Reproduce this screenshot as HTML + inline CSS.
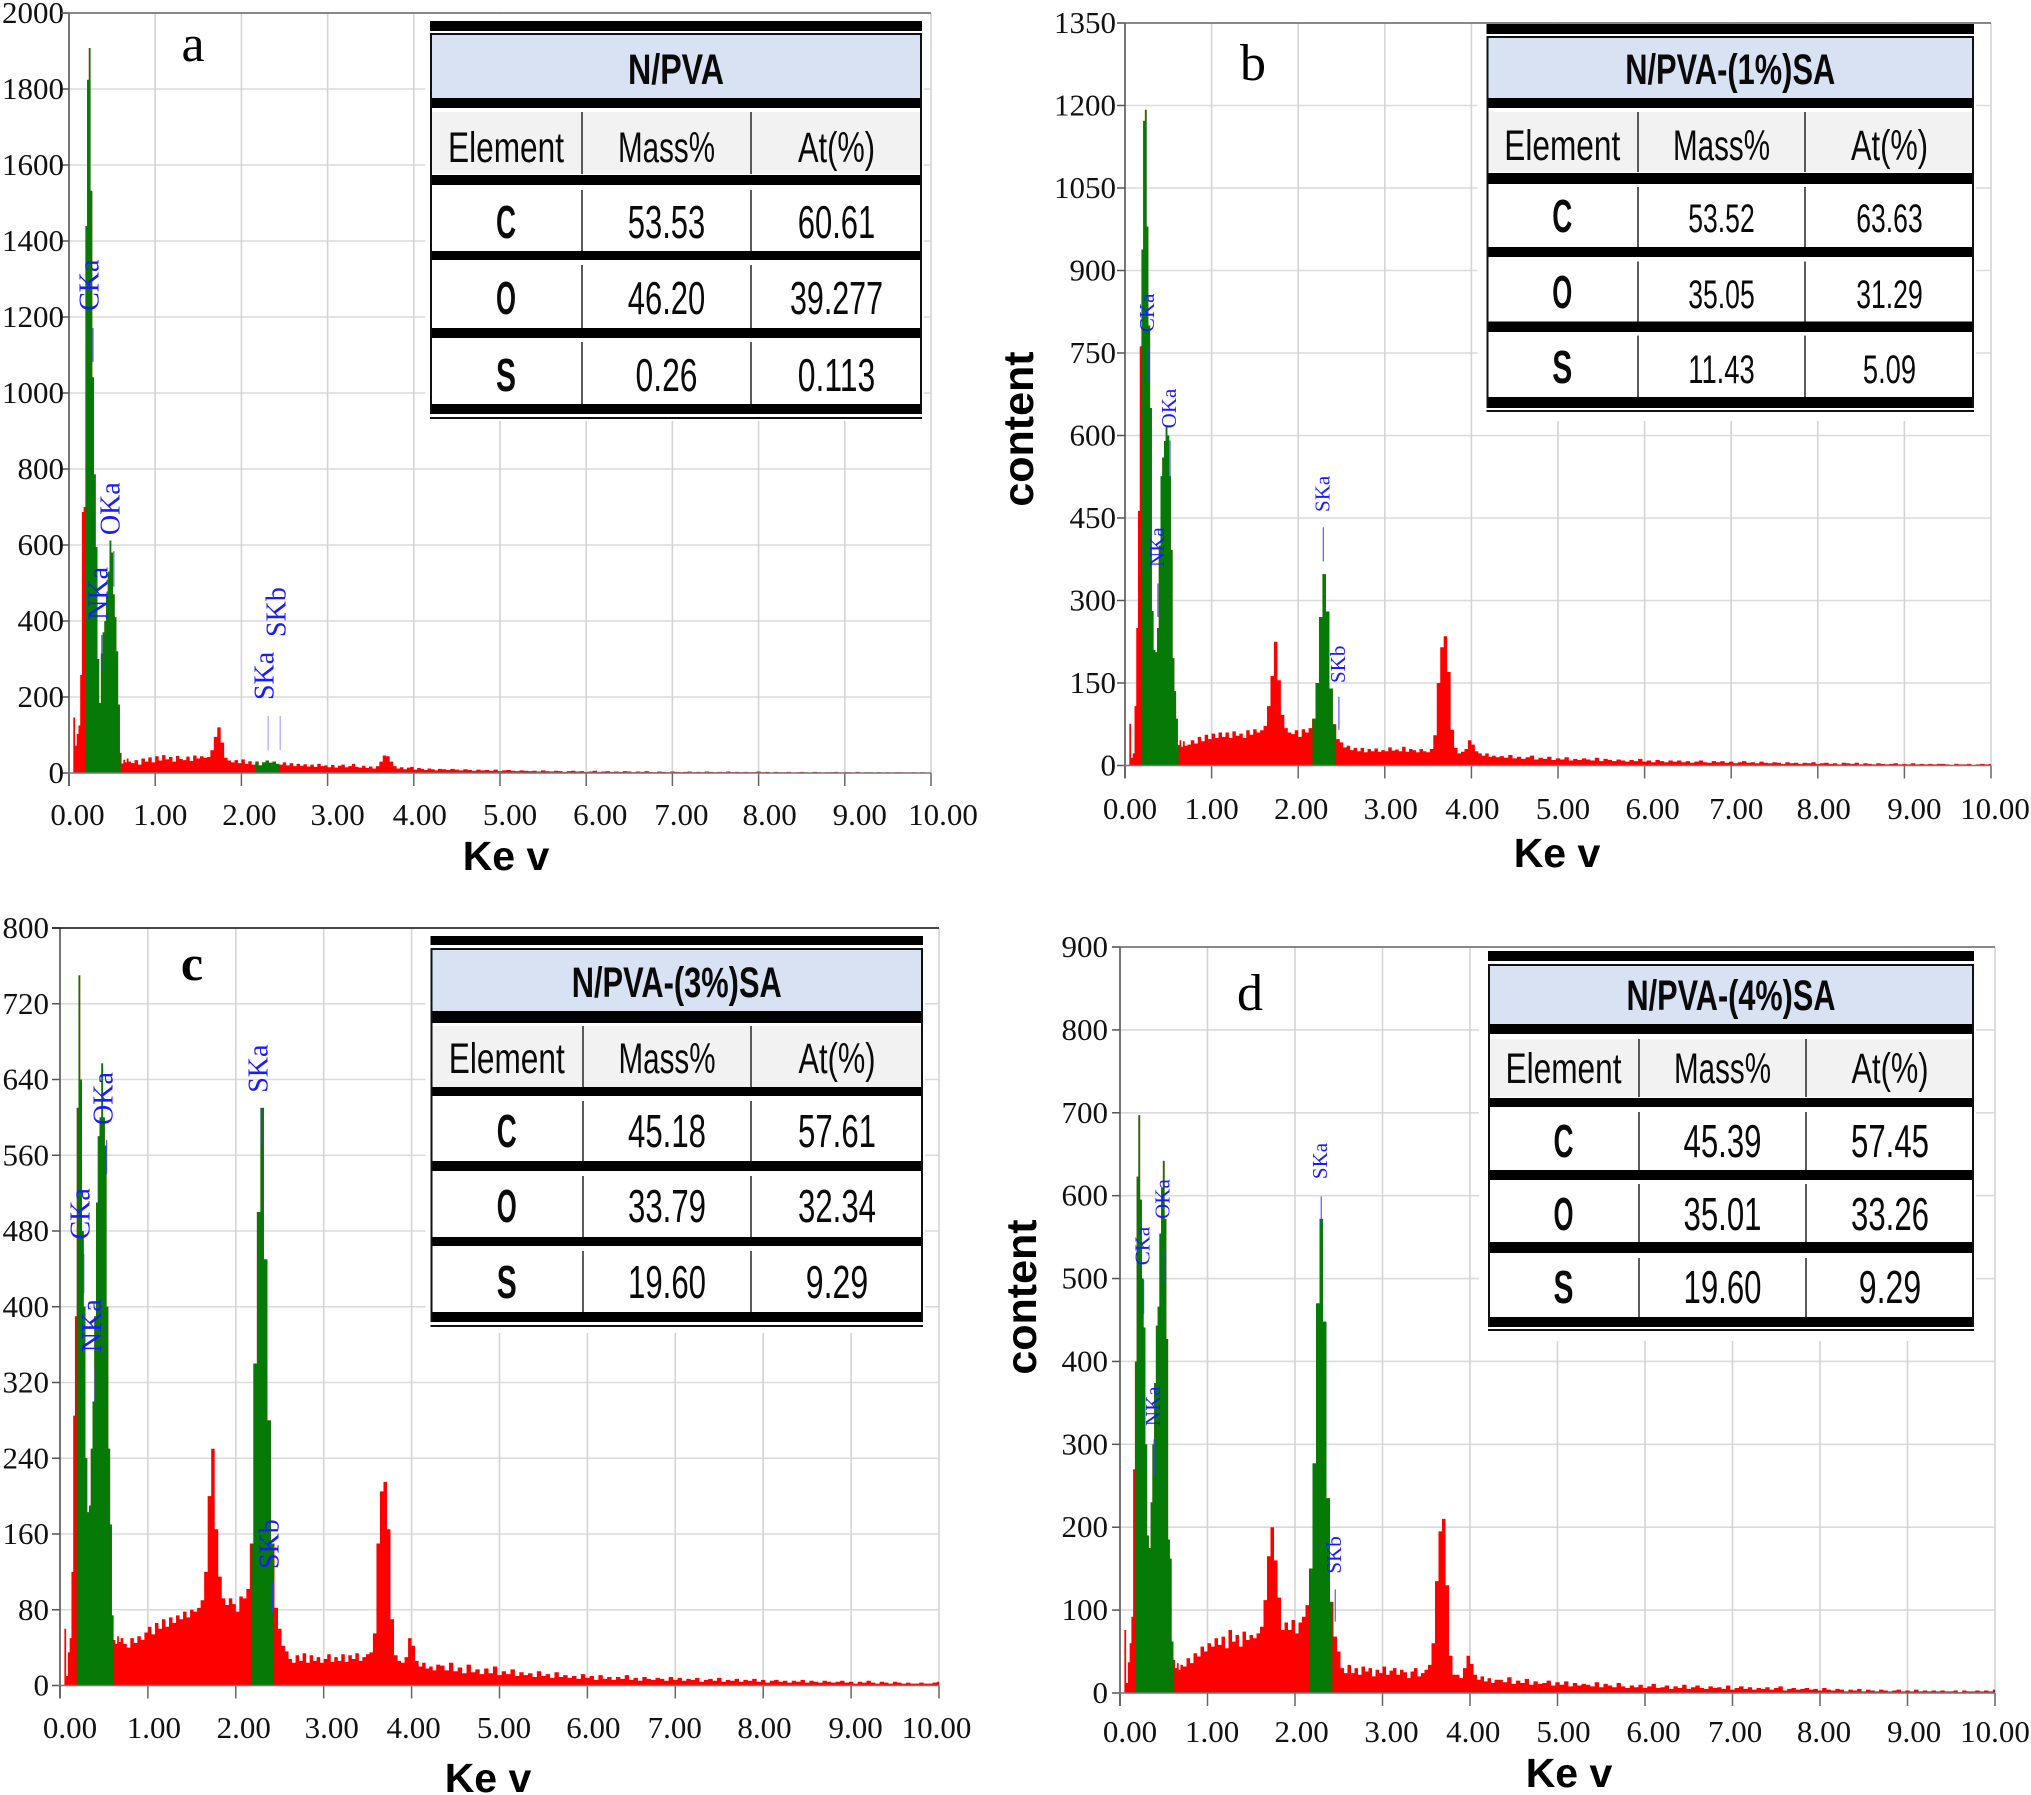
<!DOCTYPE html>
<html lang="en">
<head>
<meta charset="utf-8">
<title>EDX spectra of N/PVA composites</title>
<style>
html,body{margin:0;padding:0;background:#fff;}
svg{display:block;}
</style>
</head>
<body>
<svg id="figure" xmlns="http://www.w3.org/2000/svg" width="2031" height="1795" viewBox="0 0 2031 1795"></svg>
<script>
// Shared energy axis of the spectra (keV)
const energyKeV = [
0.04,0.06,0.08,0.10,0.12,0.14,0.16,0.18,0.20,0.22,0.24,0.26,0.28,0.30,0.32,0.34,0.36,
0.38,0.40,0.42,0.44,0.46,0.48,0.50,0.52,0.54,0.56,0.58,0.60,0.62,0.64,0.66,0.68,0.70,
0.74,0.78,0.82,0.86,0.90,0.94,0.98,1.02,1.06,1.10,
1.14,1.18,1.22,1.26,1.30,1.34,1.38,1.42,1.46,1.50,
1.54,1.58,1.62,1.66,1.70,1.74,1.78,1.82,1.86,1.90,
1.94,1.98,2.02,2.06,2.10,2.14,2.18,2.22,2.26,2.30,
2.34,2.38,2.42,2.46,2.50,2.54,2.58,2.62,2.66,2.70,
2.74,2.78,2.82,2.86,2.90,2.94,2.98,3.02,3.06,3.10,
3.14,3.18,3.22,3.26,3.30,3.34,3.38,3.42,3.46,3.50,
3.54,3.58,3.62,3.66,3.70,3.74,3.78,3.82,3.86,3.90,
3.94,3.98,4.02,4.06,4.10,4.14,4.18,4.22,4.26,4.30,
4.35,4.40,4.45,4.50,4.55,4.60,4.65,4.70,4.75,4.80,
4.85,4.90,4.95,5.00,5.05,5.10,5.15,5.20,5.25,5.30,
5.35,5.40,5.45,5.50,5.55,5.60,5.65,5.70,5.75,5.80,
5.85,5.90,5.95,6.00,6.05,6.10,6.15,6.20,6.25,6.30,
6.35,6.40,6.45,6.50,6.55,6.60,6.65,6.70,6.75,6.80,
6.85,6.90,6.95,7.00,7.05,7.10,7.15,7.20,7.25,7.30,
7.35,7.40,7.45,7.50,7.55,7.60,7.65,7.70,7.75,7.80,
7.85,7.90,7.95,8.00,8.05,8.10,8.15,8.20,8.25,8.30,
8.35,8.40,8.45,8.50,8.55,8.60,8.65,8.70,8.75,8.80,
8.85,8.90,8.95,9.00,9.05,9.10,9.15,9.20,9.25,9.30,
9.35,9.40,9.45,9.50,9.55,9.60,9.65,9.70,9.75,9.80,
9.85,9.90,9.95,10.00];

const countsA = [
0,146,72,103,125,258,687,700,1439,1824,1908,1532,1041,786,594,300,184,
314,370,400,470,530,612,580,470,410,320,180,53,25,35,28,38,30,
26,34,22,38,30,41,28,44,33,47,
36,42,30,45,37,34,43,32,46,38,
44,40,42,60,95,120,80,40,33,28,
34,26,36,24,31,22,30,20,28,33,
27,30,24,22,28,20,26,18,24,19,
23,17,22,16,24,18,20,15,21,14,
19,22,15,18,24,16,14,19,13,17,
12,18,30,46,44,30,18,12,15,10,
14,16,9,13,11,8,12,10,7,11,
10,8,11,9,7,10,8,6,9,7,
8,6,9,5,7,8,6,5,7,6,
5,6,4,7,5,4,6,5,3,5,
6,4,5,3,4,6,3,4,5,3,
4,3,5,4,2,4,3,5,3,2,
4,3,2,4,3,2,3,4,2,3,
2,4,3,2,3,2,4,2,3,2,
3,2,2,4,2,3,1,3,2,2,
3,1,2,3,2,1,3,2,1,2,
2,3,1,2,2,1,3,1,2,2,
1,2,1,2,1,2,2,1,1,2,
1,2,1,1];

const countsB = [
0,76,14,22,108,250,463,762,938,1172,1192,980,800,650,281,210,206,
250,400,526,560,590,617,600,526,392,195,135,85,37,46,34,44,36,
38,46,40,52,44,56,48,58,50,60,
52,60,50,62,54,58,50,64,56,66,
60,64,72,108,163,225,155,92,68,60,
57,64,52,66,60,68,85,150,270,348,
280,140,75,48,42,33,36,28,32,26,
32,24,30,26,31,25,28,26,33,27,
29,26,34,25,30,28,24,30,26,24,
30,55,150,215,235,170,65,32,22,25,
30,46,38,26,22,18,22,16,18,15,
17,14,19,13,16,12,15,18,11,14,
12,16,10,13,11,15,9,12,10,13,
11,9,14,8,12,10,8,11,9,7,
10,8,12,7,9,6,10,8,6,9,
7,9,6,8,5,7,9,6,5,8,
6,8,5,7,4,6,8,5,6,4,
7,5,4,6,5,3,6,4,5,3,
5,4,6,3,4,5,3,4,2,5,
4,3,5,2,4,3,2,4,3,2,
3,4,2,3,2,4,2,3,2,3,
2,3,3,2,1,3,2,2,3,1,
2,3,2,3];

const countsC = [
0,60,10,35,50,120,285,390,610,750,640,480,400,240,183,190,250,
300,390,510,580,600,657,600,570,400,250,170,74,48,44,52,46,50,
44,40,50,45,52,48,56,62,54,66,
60,70,62,72,66,74,70,78,72,80,
78,82,90,120,200,250,165,115,92,85,
92,86,78,94,92,102,150,340,500,610,
450,280,150,82,60,42,36,28,24,32,
26,34,24,32,26,30,24,28,33,25,
30,26,33,25,32,28,34,26,30,33,
35,55,150,205,215,165,70,32,26,24,
30,50,42,26,20,24,18,20,16,22,
21,16,24,15,19,13,22,14,17,12,
18,13,20,11,15,12,17,10,14,11,
13,9,15,10,12,8,14,9,11,8,
10,7,12,8,10,6,11,7,9,6,
9,7,11,6,8,5,9,7,6,8,
7,5,9,6,8,5,7,6,8,4,
6,7,5,8,4,6,5,7,4,6,
5,7,4,6,3,5,6,4,5,3,
5,4,6,3,5,4,3,5,4,3,
4,5,3,4,2,4,3,5,3,2,
4,3,2,4,3,2,3,2,2,3,
2,2,3,4];

const countsD = [
0,76,12,37,60,92,270,400,623,697,595,500,441,300,190,175,230,
300,374,443,466,554,610,642,572,427,185,162,62,40,30,36,28,34,
32,42,36,48,44,56,50,60,56,66,
58,68,54,76,62,70,56,74,64,70,
66,72,80,112,165,200,160,115,76,85,
76,88,72,85,92,106,150,277,470,572,
448,235,110,68,50,30,24,34,24,30,
22,32,26,30,20,28,24,32,22,27,
30,22,28,25,18,26,30,20,24,28,
34,60,135,195,210,130,45,22,22,18,
30,45,35,22,16,20,14,18,12,16,
16,13,19,11,15,12,17,10,14,11,
12,15,9,13,10,14,8,12,9,11,
10,8,13,7,11,9,7,12,8,6,
9,7,10,6,8,11,6,7,9,5,
8,6,10,5,7,9,6,5,8,6,
7,5,9,4,6,8,5,7,4,6,
5,7,4,6,8,3,5,6,4,5,
6,4,5,3,6,4,3,5,4,2,
4,3,5,2,4,3,2,4,3,2,
3,4,2,3,2,4,2,3,2,3,
2,3,2,2,3,1,3,2,2,3,
2,3,2,4];

// Axis tick labels
const xTickLabels = ["0.00","1.00","2.00","3.00","4.00","5.00","6.00","7.00","8.00","9.00","10.00"];
const yTicksA = ["0","200","400","600","800","1000","1200","1400","1600","1800","2000"];
const yTicksB = ["0","150","300","450","600","750","900","1050","1200","1350"];
const yTicksC = ["0","80","160","240","320","400","480","560","640","720","800"];
const yTicksD = ["0","100","200","300","400","500","600","700","800","900"];

// Highlighted energy windows (keV)
const windowsA = [[0.19,0.60],[2.17,2.44]];
const windowsB = [[0.185,0.62],[2.165,2.435]];
const windowsC = [[0.19,0.607],[2.175,2.435]];
const windowsD = [[0.18,0.62],[2.16,2.427]];

// Peak annotations
const peakNames = ["CKa","OKa","NKa","SKa","SKb"];
const peakEnergyA = [0.278,0.52,0.38,2.31,2.45];
const peakLineTopA = [1171,584,363,150,150];
const peakLineBottomA = [1082,490,266,60,60];
const peakTextA = [1216,626,403,192,358];
const peakEnergyB = [0.266,0.52,0.38,2.29,2.47];
const peakLineTopB = [759,591,331,433,125];
const peakLineBottomB = [697,524,270,371,65];
const peakTextB = [788,613,361,461,150];
const peakEnergyC = [0.27,0.53,0.40,2.29,2.42];
const peakLineTopC = [456,576,335,608,109];
const peakLineBottomC = [414,540,300,571,77];
const peakTextC = [471,592,352,626,123];
const peakEnergyD = [0.27,0.50,0.39,2.30,2.46];
const peakLineTopD = [498,536,306,599,125];
const peakLineBottomD = [457,495,262,565,86];
const peakTextD = [516,572,322,620,144];

// Composition tables
const tableHead = ["Element","Mass%","At(%)"];
const titleA = "N/PVA";
const titleB = "N/PVA-(1%)SA";
const titleC = "N/PVA-(3%)SA";
const titleD = "N/PVA-(4%)SA";
const rowsA = [["C","53.53","60.61"],["O","46.20","39.277"],["S","0.26","0.113"]];
const rowsB = [["C","53.52","63.63"],["O","35.05","31.29"],["S","11.43","5.09"]];
const rowsC = [["C","45.18","57.61"],["O","33.79","32.34"],["S","19.60","9.29"]];
const rowsD = [["C","45.39","57.45"],["O","35.01","33.26"],["S","19.60","9.29"]];

const panels = [
 {id:"a",letter:"a",letterX:193,letterY:61,letterSize:52,letterWeight:"normal",
  x0:69,x10:931,y0:773,yTop:13,gapY:5,labelShift:[8.5,5,8,10,6,10,14,9,11,15,12],xLabelY:825,counts:countsA,yTicks:yTicksA,windows:windowsA,
  pe:peakEnergyA,pt:peakLineTopA,pb:peakLineBottomA,px:peakTextA,peakFont:28,peakLift:5.5,
  xTitleX:506,xTitleY:870,yTitleX:null,yTitleY:null,
  title:titleA,titleW:96,rows:rowsA,numFont:46,charW:15.5,
  tx0:430,tx1:922,c1:582,c2:751,
  tTop:[21,31],tHeader:[35,98],tBands:[[98,108],[175,185],[251,260],[328,338],[404,414]],
  tRows:[[112,174],[190,251],[265,328],[342,404]],tThin:418,tBase:[84,162,238,314,391],backLeft:5,backBottom:421},
 {id:"b",letter:"b",letterX:1253,letterY:80,letterSize:52,letterWeight:"normal",
  x0:1125,x10:1991,y0:765.5,yTop:23,gapY:9,labelShift:[5,0,3,6,1,5,8,5,6,10,4],xLabelY:819,counts:countsB,yTicks:yTicksB,windows:windowsB,
  pe:peakEnergyB,pt:peakLineTopB,pb:peakLineBottomB,px:peakTextB,peakFont:21,peakLift:6,
  xTitleX:1557,xTitleY:867,yTitleX:1033,yTitleY:429,
  title:titleB,titleW:210,rows:rowsB,numFont:40,charW:13.3,
  tx0:1486.5,tx1:1974,c1:1638,c2:1805,
  tTop:[24,34],tHeader:[38,98],tBands:[[98,108],[173,184],[247,257],[321.5,332],[397,408]],
  tRows:[[112,172],[187,247],[261.5,321.5],[335.6,397]],tThin:411,tBase:[84,160,232,308,383],backLeft:9,backBottom:421},
 {id:"c",letter:"c",letterX:192,letterY:980,letterSize:50,letterWeight:"bold",
  x0:60,x10:939,y0:1685.5,yTop:928,gapY:11,labelShift:[10,6,8,8,2,4.5,6,-0.6,1.3,4.5,-2.5],xLabelY:1738,counts:countsC,yTicks:yTicksC,windows:windowsC,
  pe:peakEnergyC,pt:peakLineTopC,pb:peakLineBottomC,px:peakTextC,peakFont:28,peakLift:6,
  xTitleX:488,xTitleY:1792,yTitleX:null,yTitleY:null,
  title:titleC,titleW:210,rows:rowsC,numFont:46,charW:15.6,
  tx0:430.5,tx1:923,c1:583,c2:751,
  tTop:[936,945],tHeader:[950,1011],tBands:[[1011,1023],[1087,1096],[1161,1171],[1237,1246],[1312,1322]],
  tRows:[[1026,1087],[1101,1161],[1176,1237],[1251,1312]],tThin:1326,tBase:[997,1073,1147,1222,1298],backLeft:5,backBottom:1333},
 {id:"d",letter:"d",letterX:1250,letterY:1010,letterSize:52,letterWeight:"normal",
  x0:1120,x10:1995,y0:1693,yTop:947,gapY:12,labelShift:[10,4.6,6.6,9,3.3,6,8.5,2.6,4,6.6,0],xLabelY:1742,counts:countsD,yTicks:yTicksD,windows:windowsD,
  pe:peakEnergyD,pt:peakLineTopD,pb:peakLineBottomD,px:peakTextD,peakFont:21,peakLift:6,
  xTitleX:1569,xTitleY:1787,yTitleX:1036,yTitleY:1297,
  title:titleD,titleW:209,rows:rowsD,numFont:46,charW:15.6,
  tx0:1488,tx1:1974,c1:1639,c2:1806,
  tTop:[951,961],tHeader:[966,1024],tBands:[[1024,1034],[1098,1107],[1170,1180],[1242,1253],[1317,1327]],
  tRows:[[1039,1097],[1112,1170],[1184,1242],[1258,1317]],tThin:1330,tBase:[1010,1083,1157,1230,1303],backLeft:9,backBottom:1341}
];

const SVGNS = "http://www.w3.org/2000/svg";
const SERIF = '"Liberation Serif", serif';
const SANS = '"Liberation Sans", sans-serif';
const svg = document.getElementById("figure");

function shape(parent, tag, attrs, text) {
  const el = document.createElementNS(SVGNS, tag);
  for (const k in attrs) el.setAttribute(k, attrs[k]);
  if (text !== undefined) el.textContent = text;
  parent.appendChild(el);
  return el;
}
function xScale(p, e) { return p.x0 + e * (p.x10 - p.x0) / 10; }
function yScale(p, c) {
  const yMax = parseFloat(p.yTicks[p.yTicks.length - 1]);
  return p.y0 - c * (p.y0 - p.yTop) / yMax;
}

function drawAxes(p, g) {
  p.yTicks.forEach(function (lab) {
    const v = parseFloat(lab), y = yScale(p, v);
    if (v > 0) {
      const gl = shape(g, "line", {x1: p.x0, x2: p.x10, y1: y, y2: y, stroke: "#dadada", "stroke-width": 1.6});
      
      
    }
    const tk = shape(g, "line", {x1: p.x0 - 8, x2: p.x0, y1: y, y2: y, stroke: "#555", "stroke-width": 1.5});
    
    
    const t = shape(g, "text", {x: p.x0 - p.gapY, y: y + 10, "text-anchor": "end", "font-family": SERIF, "font-size": 31, fill: "#111"}, lab);
    
    
  });
  xTickLabels.forEach(function (lab, i) {
    const v = parseFloat(lab), x = xScale(p, v);
    if (v > 0) {
      const gl = shape(g, "line", {x1: x, x2: x, y1: p.yTop, y2: p.y0, stroke: "#d4d4d4", "stroke-width": 1.6});
      
      
    }
    const tk = shape(g, "line", {x1: x, x2: x, y1: p.y0, y2: p.y0 + 13, stroke: "#666", "stroke-width": 1.5});
    
    
    const t = shape(g, "text", {x: x + p.labelShift[i], y: p.xLabelY, "text-anchor": "middle", "font-family": SERIF, "font-size": 31, fill: "#111"}, lab);
    
    
  });
}

// Histogram outline: each bin holds its count between the midpoints to its neighbours
function spectrumPath(p) {
  let d = "M" + xScale(p, energyKeV[0]).toFixed(2) + " " + p.y0;
  energyKeV.forEach(function (e, i) {
    const right = i < energyKeV.length - 1 ? (e + energyKeV[i + 1]) / 2 : e;
    d += "V" + yScale(p, p.counts[i]).toFixed(2) + "H" + xScale(p, right).toFixed(2);
  });
  return d + "V" + p.y0 + "Z";
}

function drawSpectrum(p, g) {
  const d = spectrumPath(p);
  const red = shape(g, "path", {d: d, fill: "#ff0000"});
  
  
  p.windows.forEach(function (w, i) {
    const id = "window-" + p.id + "-" + i;
    const clip = shape(g, "clipPath", {id: id});
    
    
    const cr = shape(clip, "rect", {x: xScale(p, w[0]), y: p.yTop, width: xScale(p, w[1]) - xScale(p, w[0]), height: p.y0 - p.yTop});
    
    
    const green = shape(g, "path", {d: d, fill: "#067a06", "clip-path": "url(#" + id + ")"});
    
    
  });
}

function drawFrame(p, g) {
  const left = shape(g, "line", {x1: p.x0, x2: p.x0, y1: p.yTop, y2: p.y0 + 13, stroke: "#555", "stroke-width": 1.6});
  
  
  const bottom = shape(g, "line", {x1: p.x0 - 2, x2: p.x10, y1: p.y0, y2: p.y0, stroke: "#777", "stroke-width": 1.6});
  
  
  const top = shape(g, "line", {x1: p.x0 - 8, x2: p.x10, y1: p.yTop, y2: p.yTop, stroke: p.id === "c" ? "#111" : "#666", "stroke-width": 1.5});
  
  
}

function drawPeakLabels(p, g) {
  peakNames.forEach(function (name, i) {
    const x = xScale(p, p.pe[i]);
    const line = shape(g, "line", {x1: x, x2: x, y1: yScale(p, p.pt[i]), y2: yScale(p, p.pb[i]), stroke: "#3a3aff", "stroke-width": 1.2, opacity: i > 2 && p.id === "a" ? 0.45 : 0.85});
    
    
    const bx = x + p.peakLift, by = yScale(p, p.px[i]);
    const t = shape(g, "text", {x: bx, y: by, transform: "rotate(-90 " + bx + " " + by + ")", "font-family": SERIF, "font-size": p.peakFont, fill: "#1a1aff"}, name);
    
    
  });
}

function tableText(g, str, x, y, size, width, weight, name) {
  const t = shape(g, "text", {x: x, y: y, "text-anchor": "middle", "font-family": SANS, "font-size": size, "font-weight": weight, fill: "#0a0a0a", textLength: width, lengthAdjust: "spacingAndGlyphs"}, str);
  
  
}

function drawTable(p, g) {
  const back = shape(g, "rect", {x: p.tx0 - p.backLeft, y: p.yTop + 1, width: p.tx1 - p.tx0 + p.backLeft + 2, height: p.backBottom - p.yTop - 1, fill: "#fff"});
  
  
  const bar = shape(g, "rect", {x: p.tx0, y: p.tTop[0], width: p.tx1 - p.tx0, height: p.tTop[1] - p.tTop[0], fill: "#000"});
  
  
  const hdr = shape(g, "rect", {x: p.tx0 + 2, y: p.tHeader[0], width: p.tx1 - p.tx0 - 4, height: p.tHeader[1] - p.tHeader[0], fill: "#d9e2f3"});
  
  
  const headRow = shape(g, "rect", {x: p.tx0 + 2, y: p.tRows[0][0], width: p.tx1 - p.tx0 - 4, height: p.tRows[0][1] - p.tRows[0][0], fill: "#f2f2f2"});
  
  
  p.tBands.forEach(function (b) {
    const r = shape(g, "rect", {x: p.tx0, y: b[0], width: p.tx1 - p.tx0, height: b[1] - b[0], fill: "#000"});
    
    
  });
  const lastBand = p.tBands[p.tBands.length - 1];
  [p.tx0 + 1, p.tx1 - 1].forEach(function (x) {
    const s = shape(g, "line", {x1: x, x2: x, y1: p.tHeader[0] - 1, y2: lastBand[1], stroke: "#111", "stroke-width": 2});
    
    
  });
  const headTop = shape(g, "line", {x1: p.tx0, x2: p.tx1, y1: p.tHeader[0] - 1, y2: p.tHeader[0] - 1, stroke: "#111", "stroke-width": 2});
  
  
  const thin = shape(g, "line", {x1: p.tx0, x2: p.tx1, y1: p.tThin, y2: p.tThin, stroke: "#111", "stroke-width": 2});
  
  
  p.tRows.forEach(function (r) {
    [p.c1, p.c2].forEach(function (x) {
      const c = shape(g, "line", {x1: x, x2: x, y1: r[0], y2: r[1], stroke: "#333", "stroke-width": 1.6});
      
      
    });
  });
  const cx = [(p.tx0 + p.c1) / 2, (p.c1 + p.c2) / 2, (p.c2 + p.tx1) / 2];
  tableText(g, p.title, (p.tx0 + p.tx1) / 2, p.tBase[0], 43, p.titleW, "bold", "table-title");
  const headW = [116, 97, 77];
  tableHead.forEach(function (h, i) {
    tableText(g, h, cx[i], p.tBase[1], 43, headW[i], "normal", "table-column-header");
  });
  p.rows.forEach(function (row, ri) {
    tableText(g, row[0], cx[0], p.tBase[ri + 2], 46, 20, "bold", "table-element-name");
    tableText(g, row[1], cx[1], p.tBase[ri + 2], p.numFont, row[1].length * p.charW, "normal", "table-mass-value");
    tableText(g, row[2], cx[2], p.tBase[ri + 2], p.numFont, row[2].length * p.charW, "normal", "table-atomic-value");
  });
}

panels.forEach(function (p) {
  const g = shape(svg, "g", {});
  
  
  drawAxes(p, g);
  drawSpectrum(p, g);
  drawFrame(p, g);
  drawTable(p, g);
  drawPeakLabels(p, g);
  const letter = shape(g, "text", {x: p.letterX, y: p.letterY, "text-anchor": "middle", "font-family": SERIF, "font-size": p.letterSize, "font-weight": p.letterWeight, fill: "#000"}, p.letter);
  
  
  const xt = shape(g, "text", {x: p.xTitleX, y: p.xTitleY, "text-anchor": "middle", "font-family": SANS, "font-size": 41, "font-weight": "bold", fill: "#000"}, "Ke v");
  
  
  if (p.yTitleX !== null) {
    const yt = shape(g, "text", {x: p.yTitleX, y: p.yTitleY, "text-anchor": "middle", transform: "rotate(-90 " + p.yTitleX + " " + p.yTitleY + ")", "font-family": SANS, "font-size": 43, "font-weight": "bold", fill: "#000"}, "content");
    
    
  }
});
</script>
</body>
</html>
